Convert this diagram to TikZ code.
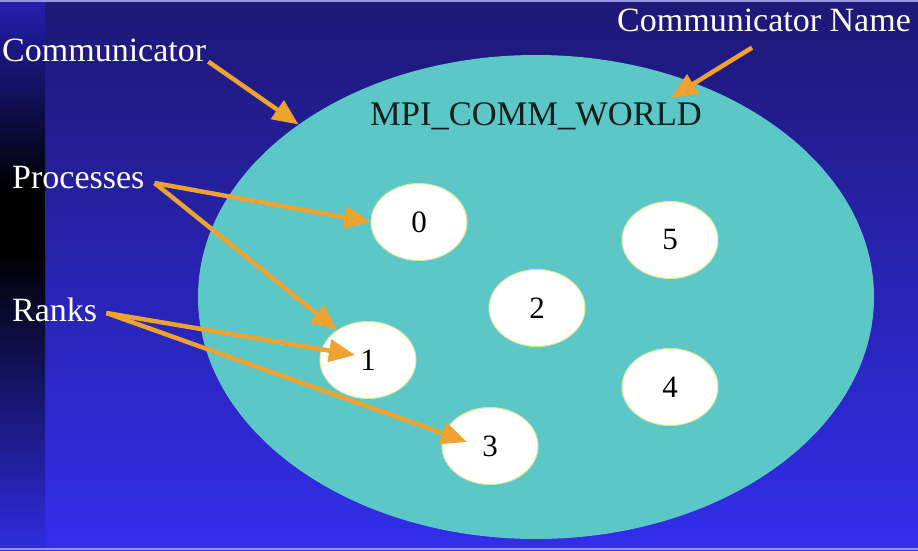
\documentclass[tikz,border=0pt]{standalone}
\usepackage{fontspec}
\setmainfont{Liberation Serif}
\usetikzlibrary{arrows.meta,shapes.geometric,positioning}
\definecolor{slidetop}{RGB}{30,24,118}
\definecolor{slidemid}{RGB}{38,34,196}
\definecolor{slidebottom}{RGB}{50,46,236}
\definecolor{slideedge}{RGB}{150,150,230}
\definecolor{commfill}{RGB}{92,199,199}
\definecolor{pointer}{RGB}{238,162,48}
\definecolor{rimgreen}{RGB}{218,234,150}
\tikzset{comm node/.style={ellipse, fill=commfill, minimum width=676pt,
    minimum height=484pt, inner sep=0pt}}
\tikzset{process node/.style={ellipse, draw=rimgreen, line width=1pt, fill=white,
    minimum width=96pt, minimum height=77pt, inner sep=0pt,
    font=\fontsize{31}{32}\selectfont}}
\tikzset{slide label/.style={text=white, font=\fontsize{34}{36}\selectfont, inner sep=0pt}}
\tikzset{name label/.style={text=black!85!commfill, font=\fontsize{34.5}{36}\selectfont, inner sep=0pt}}
\tikzset{pointer edge/.style={draw=pointer, line width=4.5pt, -{Triangle[length=26pt,width=22pt]}}}

\begin{document}
\begin{tikzpicture}
      [x=1pt, y=1pt]
      \useasboundingbox (0,0) rectangle (918,550);

      % slide background
      \shade [top color=slidetop, middle color=slidemid, bottom color=slidebottom] (0,0) rectangle (918,550);
      \shade [top color=slidemid!75!slidetop, bottom color=black] (0,360) rectangle (45,550);
      \fill  [black] (0,300) rectangle (45,360);
      \shade [top color=black, bottom color=slidebottom!95!black] (0,0) rectangle (45,300);
      \fill  [slideedge] (0,548) rectangle (918,550);
      \fill  [slideedge] (0,0) rectangle (918,2);

      \node [comm node]    (comm)       at (536,253)   {};
      \node [name label]   (worldName)  at (536,433.5) {MPI\_COMM\_WORLD};

      \node [process node] (p0)         at (419,328)   {0};
      \node [process node] (p1)         at (368,190)   {1};
      \node [process node] (p2)         at (537,242)   {2};
      \node [process node] (p3)         at (490,104)   {3};
      \node [process node] (p4)         at (670,163)   {4};
      \node [process node] (p5)         at (670,310)   {5};

      \node [slide label, anchor=west] (commLabel) at (2,500)   {Communicator};
      \node [slide label]              (nameLabel) at (764,530) {Communicator Name};
      \node [slide label, anchor=west] (procLabel) at (12,372)  {Processes};
      \node [slide label, anchor=west] (rankLabel) at (12,240)  {Ranks};

      \draw [pointer edge] ([xshift=2pt]commLabel.south east)               -- (comm.144);
      \draw [pointer edge] ([xshift=-12pt,yshift=-16pt]nameLabel.south)     -- ([xshift=-31pt,yshift=5pt]worldName.north east);
      \draw [pointer edge] ([xshift=10pt,yshift=-5pt]procLabel.east)        -- (p0.west);
      \draw [pointer edge] ([xshift=10pt,yshift=-5pt]procLabel.east)        -- (p1.136);
      \draw [pointer edge] ([xshift=9pt,yshift=-3pt]rankLabel.east)         -- ([xshift=-13pt,yshift=5pt]p1.center);
      \draw [pointer edge] ([xshift=9pt,yshift=-3pt]rankLabel.east)         -- ([xshift=-23pt,yshift=4pt]p3.center);
    \end{tikzpicture}
\end{document}
